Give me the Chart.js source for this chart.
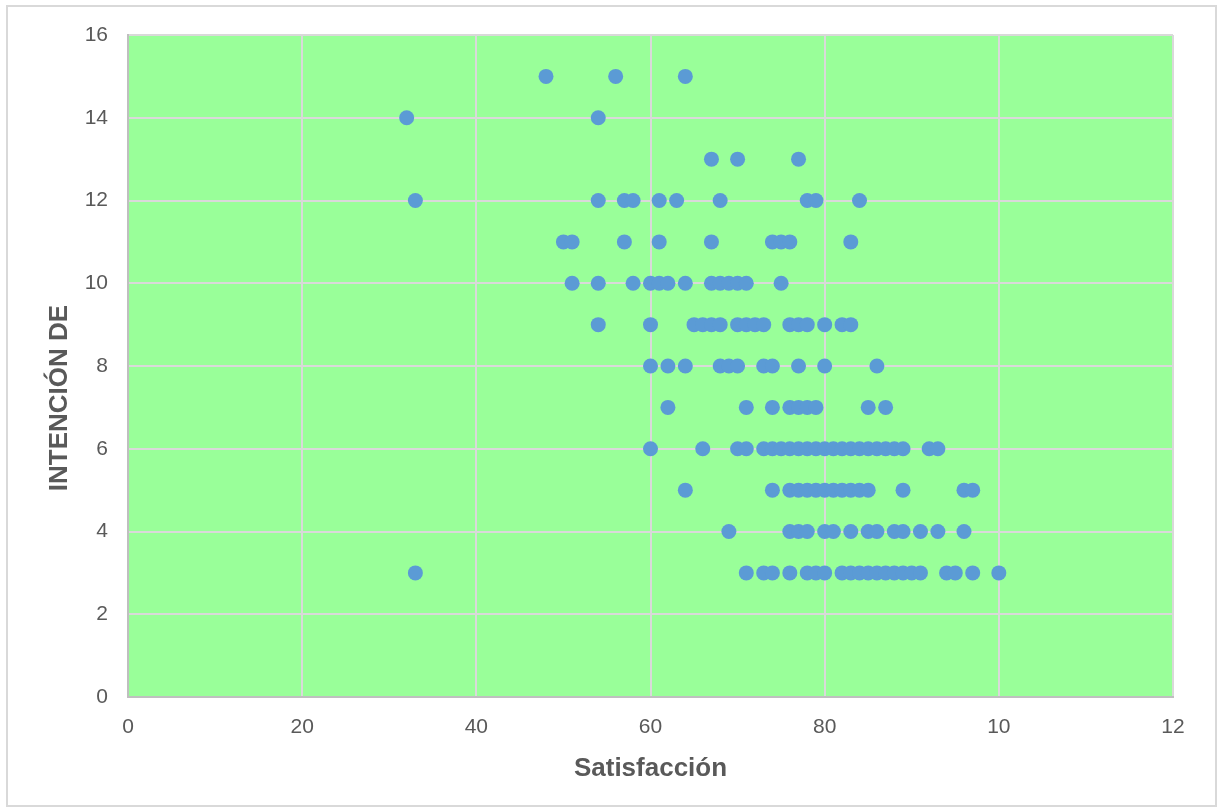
<!DOCTYPE html>
<html>
<head>
<meta charset="utf-8">
<title>Satisfacción vs Intención</title>
<script src="https://cdn.jsdelivr.net/npm/chart.js@4.4.1/dist/chart.umd.min.js"></script>
<style>
  html, body { margin: 0; padding: 0; background: #fff; }
  #wrap { width: 1223px; height: 812px; }
</style>
</head>
<body>
<div id="wrap"><canvas id="scatterChart" width="1223" height="812"></canvas></div>
<script>
// Intención level (y) and the satisfacción values (x) read for each level
const intencionLevels = [15, 14, 13, 12, 11, 10, 9, 8, 7, 6, 5, 4, 3];
const satisfaccion15 = [48, 56, 64];
const satisfaccion14 = [32, 54];
const satisfaccion13 = [67, 70, 77];
const satisfaccion12 = [33, 54, 57, 58, 61, 63, 68, 78, 79, 84];
const satisfaccion11 = [50, 51, 57, 61, 67, 74, 75, 76, 83];
const satisfaccion10 = [51, 54, 58, 60, 61, 62, 64, 67, 68, 69, 70, 71, 75];
const satisfaccion9 = [54, 60, 65, 66, 67, 68, 70, 71, 72, 73, 76, 77, 78, 80, 82, 83];
const satisfaccion8 = [60, 62, 64, 68, 69, 70, 73, 74, 77, 80, 86];
const satisfaccion7 = [62, 71, 74, 76, 77, 78, 79, 85, 87];
const satisfaccion6 = [60, 66, 70, 71, 73, 74, 75, 76, 77, 78, 79, 80, 81, 82, 83, 84, 85, 86, 87, 88, 89, 92, 93];
const satisfaccion5 = [64, 74, 76, 77, 78, 79, 80, 81, 82, 83, 84, 85, 89, 96, 97];
const satisfaccion4 = [69, 76, 77, 78, 80, 81, 83, 85, 86, 88, 89, 91, 93, 96];
const satisfaccion3 = [33, 71, 73, 74, 76, 78, 79, 80, 82, 83, 84, 85, 86, 87, 88, 89, 90, 91, 94, 95, 97, 100];

// tick labels as printed (the last two are cut short in the original)
const xTickLabels = ['0', '20', '40', '60', '80', '10', '12'];
const yTicks = [0, 2, 4, 6, 8, 10, 12, 14, 16];
const xTitle = 'Satisfacción';
const yTitle = 'INTENCIÓN DE';

const byLevel = [satisfaccion15, satisfaccion14, satisfaccion13, satisfaccion12, satisfaccion11,
    satisfaccion10, satisfaccion9, satisfaccion8, satisfaccion7, satisfaccion6,
    satisfaccion5, satisfaccion4, satisfaccion3];

const points = [];
byLevel.forEach((xs, i) => {
    xs.forEach(x => points.push({ x: x, y: intencionLevels[i] }));
});

const FONT = '"Liberation Sans", Arial, sans-serif';
const TEXT = '#595959';

// paints the page frame and the green plot area
const backdrop = {
    id: 'backdrop',
    beforeDraw(chart) {
        const { ctx, chartArea: a } = chart;
        ctx.save();
        ctx.fillStyle = '#ffffff';
        ctx.fillRect(0, 0, chart.width, chart.height);
        ctx.strokeStyle = '#d9d9d9';
        ctx.lineWidth = 2;
        ctx.strokeRect(7, 6, 1209, 800);
        ctx.fillStyle = '#99ff99';
        ctx.fillRect(a.left, a.top, a.right - a.left, a.bottom - a.top);
        ctx.restore();
    }
};

// the vertical title sits a bit lower than the plot centre in the original
const yTitlePlugin = {
    id: 'yTitle',
    afterDraw(chart) {
        const { ctx } = chart;
        ctx.save();
        ctx.translate(60, 398);
        ctx.rotate(-Math.PI / 2);
        ctx.font = 'bold 26px ' + FONT;
        ctx.fillStyle = TEXT;
        ctx.textAlign = 'center';
        ctx.textBaseline = 'middle';
        ctx.fillText(yTitle, 0, 0);
        ctx.restore();
    }
};

new Chart('scatterChart', {
    type: 'scatter',
    data: {
        datasets: [{
            label: 'Intención',
            data: points,
            backgroundColor: '#5b9bd5',
            borderWidth: 0,
            pointRadius: 7.5,
            pointHoverRadius: 7.5
        }]
    },
    options: {
        responsive: false,
        animation: false,
        layout: { padding: { left: 0, top: 35, right: 50, bottom: 0 } },
        plugins: {
            legend: { display: false },
            tooltip: { enabled: false }
        },
        scales: {
            x: {
                type: 'linear',
                min: 0,
                max: 120,
                afterFit(scale) { scale.height = 115; },
                afterBuildTicks(scale) {
                    scale.ticks = xTickLabels.map((t, i) => ({ value: i * 20 }));
                },
                ticks: {
                    padding: 18,
                    color: TEXT,
                    font: { family: FONT, size: 21 },
                    callback: (v, i) => xTickLabels[i]
                },
                grid: { color: '#d9d9d9', lineWidth: 2, drawTicks: false },
                border: { color: '#bfbfbf', width: 2 },
                title: {
                    display: true,
                    text: xTitle,
                    color: TEXT,
                    font: { family: FONT, size: 26, weight: 'bold' },
                    padding: { top: 0, bottom: 28 }
                }
            },
            y: {
                type: 'linear',
                min: 0,
                max: 16,
                afterFit(scale) { scale.width = 128; },
                afterBuildTicks(scale) {
                    scale.ticks = yTicks.map(v => ({ value: v }));
                },
                ticks: {
                    padding: 20,
                    color: TEXT,
                    font: { family: FONT, size: 21 }
                },
                grid: { color: '#d9d9d9', lineWidth: 2, drawTicks: false },
                border: { color: '#bfbfbf', width: 2 },
                title: { display: false }
            }
        }
    },
    plugins: [backdrop, yTitlePlugin]
});
</script>
</body>
</html>
